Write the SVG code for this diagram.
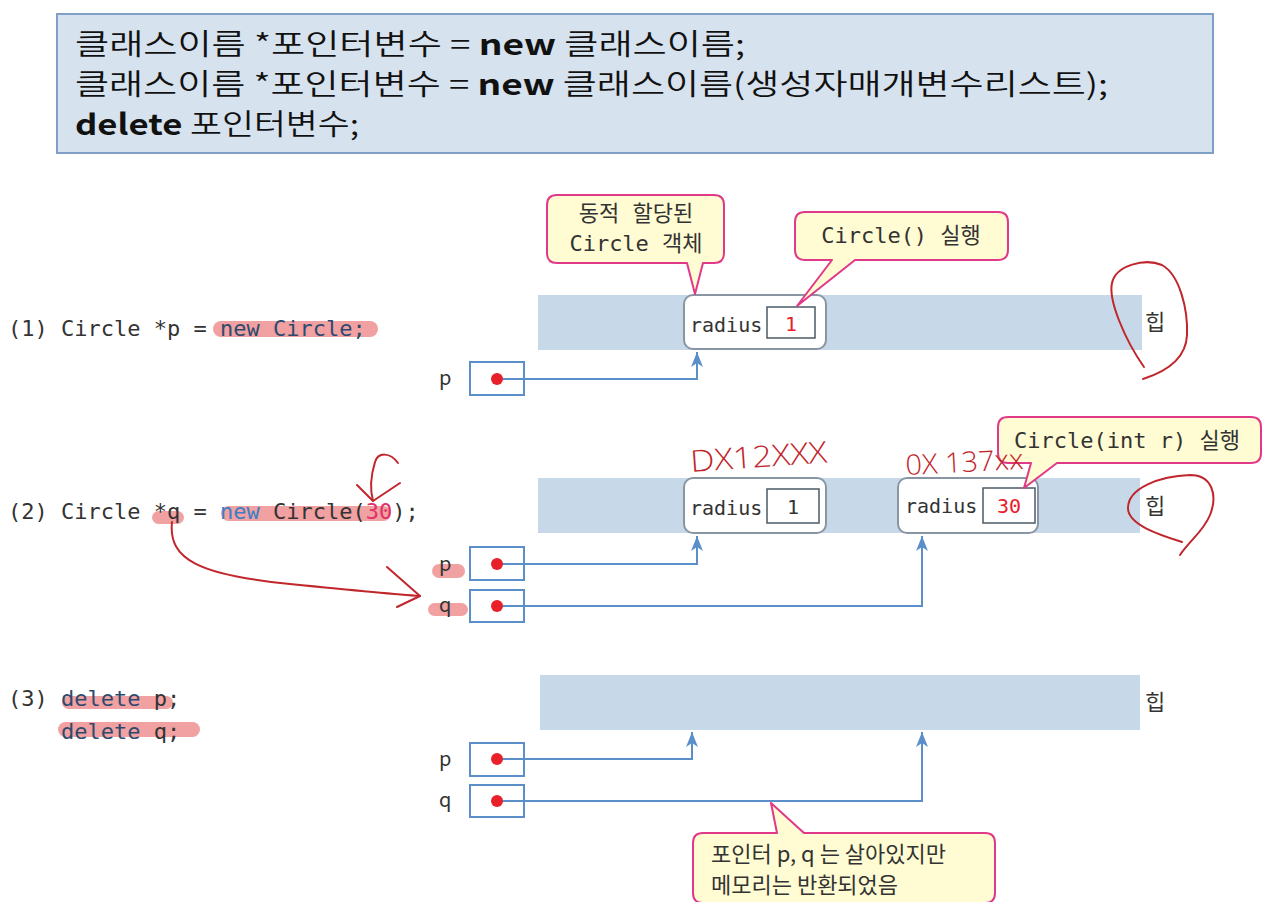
<svg xmlns="http://www.w3.org/2000/svg" width="1263" height="902" viewBox="0 0 1263 902">
<defs>
<style>
.code{font-family:"DejaVu Sans Mono","Liberation Mono","Noto Sans CJK KR",monospace;font-size:22px;fill:#333}
.kw{fill:#2d4a6e}
.mono{font-family:"DejaVu Sans Mono","Liberation Mono","Noto Sans CJK KR",monospace;fill:#333}
.red{fill:#e8202a}
.sans{font-family:"Noto Sans CJK KR","Noto Sans",sans-serif;fill:#333}
.title{font-family:"Noto Sans CJK KR","Noto Sans",sans-serif;fill:#111;font-size:29px;font-weight:350}
.heap{fill:#c7d9e8}
.obj{fill:#fff;stroke:#8896a4;stroke-width:2}
.val{fill:#fff;stroke:#4c5a66;stroke-width:1.5}
.ptr{fill:#fff;stroke:#5b8fc9;stroke-width:2}
.dot{fill:#e8202a}
.conn{fill:none;stroke:#5b8fc9;stroke-width:2}
.call{fill:#fffbd2;stroke:#e0398a;stroke-width:2;stroke-linejoin:round}
.hl{fill:#ee9090;opacity:0.85}
.ink{fill:none;stroke:#c0262c;stroke-width:2;stroke-linecap:round;stroke-linejoin:round}
.hand{font-family:"Open Sans","DejaVu Sans",sans-serif;font-weight:300;fill:#c0262c}
</style>
<marker id="arr" viewBox="-16 -7 17 14" refX="0" refY="0" markerWidth="17" markerHeight="14" markerUnits="userSpaceOnUse" orient="auto">
<path d="M0,0 L-15,-6 L-11,0 L-15,6 Z" fill="#5b8fc9"/>
</marker>
</defs>
<rect width="1263" height="902" fill="#fff"/>

<g id="syntax-box">
<rect x="57" y="14" width="1156" height="139" fill="#d6e2ee" stroke="#7f9fc6" stroke-width="2"/>
<text class="title" x="75" y="55" textLength="670" lengthAdjust="spacingAndGlyphs">클래스이름 *포인터변수 = <tspan font-weight="bold">new</tspan> 클래스이름;</text>
<text class="title" x="75" y="95" textLength="1033" lengthAdjust="spacingAndGlyphs">클래스이름 *포인터변수 = <tspan font-weight="bold">new</tspan> 클래스이름(생성자매개변수리스트);</text>
<text class="title" x="75" y="135" textLength="284" lengthAdjust="spacingAndGlyphs"><tspan font-weight="bold">delete</tspan> 포인터변수;</text>
</g>

<g id="highlights">
<rect class="hl" x="213" y="321" width="165" height="16" rx="8"/>
<rect class="hl" x="152" y="511" width="32" height="13" rx="6.5"/>
<rect class="hl" x="221" y="506" width="170" height="15" rx="7.5"/>
<rect class="hl" x="432" y="564" width="33" height="14" rx="7"/>
<rect class="hl" x="428" y="603" width="40" height="13" rx="6.5"/>
<rect class="hl" x="62" y="696" width="111" height="13" rx="6.5"/>
<rect class="hl" x="58" y="722" width="142" height="15" rx="7.5"/>
</g>

<g id="code-1">
<text class="code" x="8" y="336">(1) Circle *p = <tspan class="kw">new</tspan> <tspan class="kw">Circle;</tspan></text>
</g>
<g id="code-2">
<text class="code" x="8" y="519">(2) Circle *q = <tspan fill="#3b7fc4">new</tspan> Circle(<tspan fill="#e0306a">30</tspan>);</text>
</g>
<g id="code-3">
<text class="code" x="8" y="706">(3) <tspan class="kw">delete</tspan> p;</text>
<text class="code" x="61" y="739"><tspan class="kw">delete</tspan> q;</text>
</g>

<g id="heap-1">
<rect class="heap" x="538" y="295" width="604" height="55"/>
<text class="sans" x="1145" y="330" font-size="22">힙</text>
</g>
<g id="heap-2">
<rect class="heap" x="538" y="478" width="602" height="55"/>
<text class="sans" x="1145" y="514" font-size="22">힙</text>
</g>
<g id="heap-3">
<rect class="heap" x="540" y="675" width="600" height="55"/>
<text class="sans" x="1145" y="710" font-size="22">힙</text>
</g>

<g id="obj-1-p">
<rect class="obj" x="684" y="295" width="142" height="54" rx="9"/>
<text class="mono" x="690" y="332" font-size="20">radius</text>
<rect class="val" x="767" y="307" width="48" height="31"/>
<text class="mono red" x="791" y="331" font-size="20" text-anchor="middle">1</text>
</g>
<g id="obj-2-p">
<rect class="obj" x="684" y="478" width="142" height="55" rx="9"/>
<text class="mono" x="690" y="515" font-size="20">radius</text>
<rect class="val" x="767" y="489" width="52" height="34"/>
<text class="mono" x="793" y="514" font-size="20" text-anchor="middle">1</text>
</g>
<g id="obj-2-q">
<rect class="obj" x="898" y="478" width="140" height="55" rx="9"/>
<text class="mono" x="905" y="513" font-size="20">radius</text>
<rect class="val" x="983" y="488" width="52" height="35"/>
<text class="mono red" x="1009" y="513" font-size="20" text-anchor="middle">30</text>
</g>

<g id="ptr-1-p">
<text class="sans" x="439" y="385" font-size="20">p</text>
<rect class="ptr" x="470" y="362" width="54" height="33"/>
</g>
<g id="ptr-2-p">
<text class="sans" x="439" y="571" font-size="20">p</text>
<rect class="ptr" x="470" y="547" width="54" height="33"/>
</g>
<g id="ptr-2-q">
<text class="sans" x="439" y="612" font-size="20">q</text>
<rect class="ptr" x="470" y="590" width="54" height="32"/>
</g>
<g id="ptr-3-p">
<text class="sans" x="439" y="766" font-size="20">p</text>
<rect class="ptr" x="470" y="743" width="54" height="33"/>
</g>
<g id="ptr-3-q">
<text class="sans" x="439" y="807" font-size="20">q</text>
<rect class="ptr" x="470" y="785" width="54" height="32"/>
</g>

<g id="connectors">
<path class="conn" d="M497,379 H697 V352" marker-end="url(#arr)"/>
<path class="conn" d="M497,564 H697 V536" marker-end="url(#arr)"/>
<path class="conn" d="M497,606 H922 V536" marker-end="url(#arr)"/>
<path class="conn" d="M497,759 H692 V732" marker-end="url(#arr)"/>
<path class="conn" d="M497,801 H922 V732" marker-end="url(#arr)"/>
<circle class="dot" cx="497" cy="379" r="6"/>
<circle class="dot" cx="497" cy="564" r="6"/>
<circle class="dot" cx="497" cy="606" r="6"/>
<circle class="dot" cx="497" cy="759" r="6"/>
<circle class="dot" cx="497" cy="801" r="6"/>
</g>

<g id="callout-object">
<path class="call" d="M557,195 H714 Q724,195 724,205 V253 Q724,263 714,263 H703 L695,294 L687,263 H557 Q547,263 547,253 V205 Q547,195 557,195 Z"/>
<text class="mono" x="636" y="221" font-size="22" text-anchor="middle">동적 할당된</text>
<text class="mono" x="636" y="251" font-size="22" text-anchor="middle">Circle 객체</text>
</g>
<g id="callout-ctor">
<path class="call" d="M805,212 H998 Q1008,212 1008,222 V250 Q1008,260 998,260 H855 L797,306 L832,260 H805 Q795,260 795,250 V222 Q795,212 805,212 Z"/>
<text class="mono" x="901" y="243" font-size="22" text-anchor="middle">Circle() 실행</text>
</g>
<g id="callout-ctor-int">
<path class="call" d="M1008,417 H1251 Q1261,417 1261,427 V453 Q1261,463 1251,463 H1057 L1024,488 L1031,463 H1008 Q998,463 998,453 V427 Q998,417 1008,417 Z"/>
<text class="mono" x="1014" y="448" font-size="22">Circle(int r) 실행</text>
</g>
<g id="callout-delete">
<path class="call" d="M703,833 H777 L771,803 L804,833 H985 Q995,833 995,843 V893 Q995,903 985,903 H703 Q693,903 693,893 V843 Q693,833 703,833 Z"/>
<text class="sans" x="711" y="862" font-size="22">포인터 p, q 는 살아있지만</text>
<text class="sans" x="711" y="893" font-size="22">메모리는 반환되었음</text>
</g>

<g id="annotations">
<path class="ink" d="M1144,367 C1125,340 1108,300 1112,283 C1116,265 1145,258 1162,265 C1180,275 1188,310 1187,335 C1186,360 1165,372 1143,379"/>
<path class="ink" d="M1182,542 C1160,535 1128,525 1128,508 C1128,488 1160,476 1190,475 C1212,475 1218,495 1210,515 C1203,532 1190,540 1180,555"/>
<path class="ink" d="M172,522 C168,560 200,575 290,584 C340,589 390,594 420,596"/>
<path class="ink" d="M387,567 L420,596 L397,607"/>
<path class="ink" d="M398,463 C390,452 378,452 375,462 C371,475 370,490 373,501"/>
<path class="ink" d="M357,485 L373,501 L400,483"/>
<text class="hand" x="691" y="472" font-size="30" textLength="137" lengthAdjust="spacingAndGlyphs" transform="rotate(-4 691 472)">DX12XXX</text>
<text class="hand" x="906" y="475" font-size="28" textLength="118" lengthAdjust="spacingAndGlyphs" transform="rotate(-3 906 475)">0X 137xx</text>
</g>
</svg>
